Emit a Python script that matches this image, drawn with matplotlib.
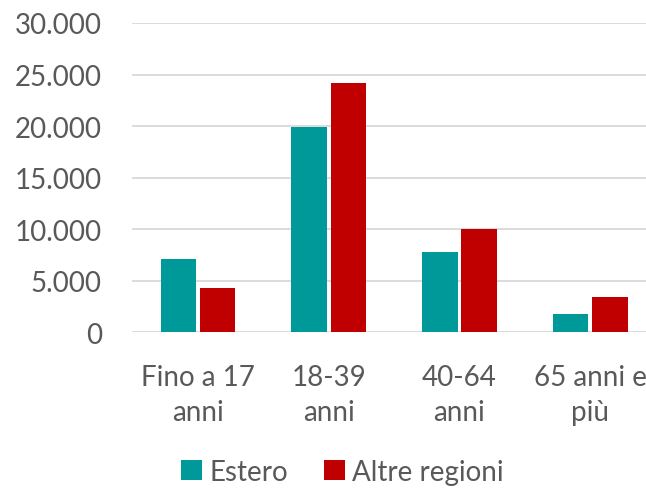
import matplotlib.pyplot as plt
import numpy as np
from matplotlib.ticker import FuncFormatter

categories = ['Fino a 17\nanni', '18-39\nanni', '40-64\nanni', '65 anni e\npiù']
estero = [7150, 19950, 7790, 1820]
altre_regioni = [4350, 24200, 10000, 3410]
series_names = ['Estero', 'Altre regioni']

teal = '#009999'
red = '#C00000'
grey = '#595959'

plt.rcParams['font.family'] = ['Lato', 'DejaVu Sans']

fig = plt.figure(figsize=(6.46, 4.89), dpi=100)
ax = fig.add_axes([0.205, 0.318, 0.81, 0.633])

x = np.arange(len(categories))
w = 0.27
gap = 0.015
ax.bar(x - w / 2 - gap, estero, w, color=teal, label=series_names[0], zorder=3)
ax.bar(x + w / 2 + gap, altre_regioni, w, color=red, label=series_names[1], zorder=3)

ax.set_ylim(0, 30000)
ax.set_xlim(-0.5, 3.5)
ax.set_yticks(np.arange(0, 30001, 5000))
ax.yaxis.set_major_formatter(FuncFormatter(lambda v, p: f'{int(v):,}'.replace(',', '.')))
ax.grid(axis='y', color='#d9d9d9', linewidth=1.3, zorder=0)
for s in ax.spines.values():
    s.set_visible(False)
ax.tick_params(axis='both', length=0, labelsize=20, colors=grey)
ax.tick_params(axis='y', pad=22)
ax.tick_params(axis='x', pad=23)
ax.set_xticks(x)
ax.set_xticklabels(categories, linespacing=1.42)

fig.legend(loc='center', bbox_to_anchor=(0.53, 0.033), ncol=2, frameon=False,
           fontsize=20, labelcolor=grey, handlelength=0.75, handleheight=0.75,
           handletextpad=0.25, columnspacing=1.3)

fig.savefig('out.png', dpi=100)
